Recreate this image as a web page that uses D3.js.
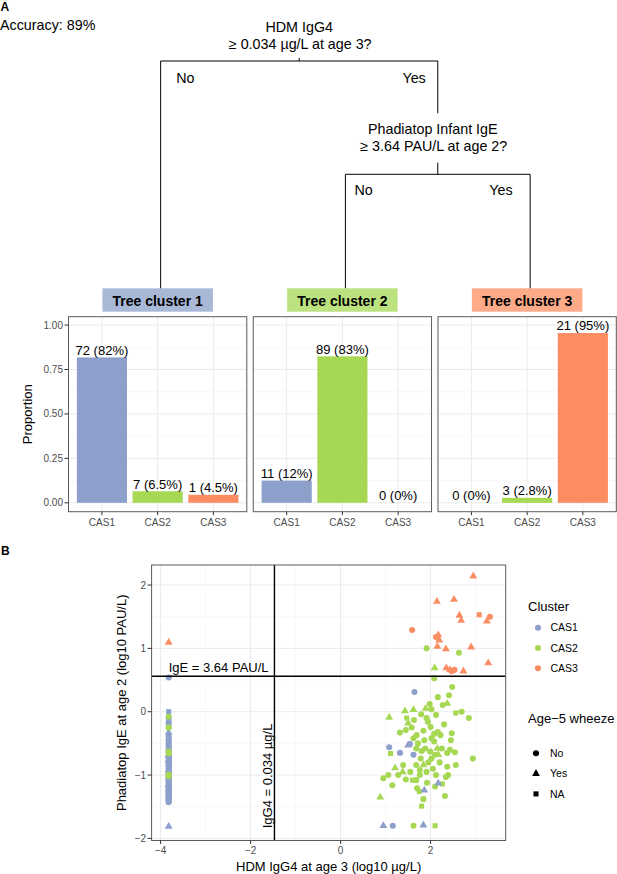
<!DOCTYPE html>
<html><head><meta charset="utf-8">
<script src="https://cdn.jsdelivr.net/npm/d3@7"></script>
<style>
body{margin:0;background:#fff}
svg{display:block}
text{font-family:"Liberation Sans",Arial,Helvetica,sans-serif}
</style></head>
<body><svg id="c" width="617" height="874"></svg>
<script>
// ---------------- DATA ----------------
const accuracy = "Accuracy: 89%";
const treeQuestions = [["HDM IgG4","≥ 0.034 µg/L at age 3?"],["Phadiatop Infant IgE","≥ 3.64 PAU/L at age 2?"]];
const branchLabels = ["No","Yes"];
const treeClusters = ["Tree cluster 1","Tree cluster 2","Tree cluster 3"];
const casCategories = ["CAS1","CAS2","CAS3"];
const clusterColors = ["#8da0cb","#a6d854","#fc8d62"];
const barProportions = [[0.818,0.065,0.045],[0.125,0.824,0],[0,0.028,0.955]];
const barLabels = [["72 (82%)","7 (6.5%)","1 (4.5%)"],["11 (12%)","89 (83%)","0 (0%)"],["0 (0%)","3 (2.8%)","21 (95%)"]];
const propTicks = [0,0.25,0.5,0.75,1];
const propMinor = [0.125,0.375,0.625,0.875];
const igg4Ticks = [-4,-2,0,2];
const igg4Minor = [-3,-1,1,3];
const igeTicks = [-2,-1,0,1,2];
const igeMinor = [-1.5,-0.5,0.5,1.5];
const igg4Threshold = -1.47;
const igeThreshold = 0.561;
const wheezeLevels = ["No","Yes","NA"];
const leftIgG4 = -3.82;
// tree cluster 1 column (x = leftIgG4): [IgE, wheeze]
const cas1LeftColumn = [[0.54,"No"],[0.00,"NA"],[-0.10,"No"],[-0.16,"No"],[-0.20,"No"],[-0.33,"Yes"],[-0.40,"No"],[-0.44,"No"],[-0.46,"No"],[-0.50,"No"],
 [-0.52,"No"],[-0.55,"No"],[-0.58,"No"],[-0.62,"No"],[-0.64,"No"],[-0.66,"NA"],[-0.68,"Yes"],[-0.71,"No"],[-0.73,"No"],[-0.74,"No"],
 [-0.76,"Yes"],[-0.78,"No"],[-0.80,"No"],[-0.82,"No"],[-0.84,"No"],[-0.85,"NA"],[-0.86,"No"],[-0.88,"No"],[-0.90,"No"],[-0.92,"Yes"],
 [-0.94,"No"],[-0.95,"No"],[-0.97,"No"],[-0.99,"No"],[-1.00,"No"],[-1.01,"NA"],[-1.03,"No"],[-1.04,"No"],[-1.05,"No"],[-1.06,"NA"],
 [-1.07,"No"],[-1.09,"No"],[-1.10,"No"],[-1.11,"No"],[-1.12,"No"],[-1.13,"NA"],[-1.15,"Yes"],[-1.16,"No"],[-1.17,"No"],[-1.18,"No"],
 [-1.19,"No"],[-1.20,"No"],[-1.21,"No"],[-1.22,"NA"],[-1.23,"No"],[-1.24,"No"],[-1.25,"No"],[-1.26,"No"],[-1.27,"NA"],[-1.28,"No"],
 [-1.29,"No"],[-1.30,"No"],[-1.31,"No"],[-1.33,"No"],[-1.34,"No"],[-1.35,"No"],[-1.36,"No"],[-1.38,"No"],[-1.40,"No"],[-1.41,"No"],
 [-1.43,"No"],[-1.81,"Yes"]];
const cas2LeftColumn = [[-0.08,"No"],[-0.25,"No"],[-0.63,"No"],[-0.99,"No"],[-0.25,"No"],[-0.66,"No"],[-1.02,"No"]];
const cas3LeftColumn = [[1.095,"Yes"]];
// right-hand points: [IgG4, IgE, wheeze]
const cas1Right = [[1.64,0.31,"No"],[1.50,-0.53,"Yes"],[1.54,-0.51,"No"],[1.08,-0.56,"No"],[1.32,-0.65,"No"],[1.62,-0.68,"No"],
 [2.17,-1.13,"Yes"],[1.86,-1.24,"Yes"],[0.95,-1.80,"Yes"],[1.16,-1.80,"No"],[1.84,-1.79,"Yes"]];
const cas2Right = [[1.91,1.00,"No"],[2.63,0.93,"No"],[2.09,0.69,"Yes"],
 [2.08,0.53,"No"],[2.48,0.39,"No"],[2.16,0.23,"No"],[2.41,0.26,"No"],
 [2.27,0.106,"No"],[2.37,0.13,"Yes"],[1.08,-0.09,"Yes"],[1.43,0.01,"Yes"],[1.62,0.03,"Yes"],[1.89,0.05,"Yes"],[2.02,0.04,"No"],
 [1.79,-0.04,"No"],[2.12,-0.05,"No"],[1.47,-0.10,"NA"],[1.50,-0.18,"Yes"],[1.63,-0.13,"No"],[1.91,-0.10,"No"],[1.94,-0.16,"No"],
 [2.56,-0.02,"NA"],[2.69,0.00,"No"],[2.85,-0.10,"No"],[1.45,-0.29,"No"],[1.32,-0.33,"No"],[1.84,-0.30,"No"],[2.00,-0.24,"No"],
 [2.16,-0.32,"No"],[2.22,-0.37,"No"],[2.47,-0.34,"No"],[1.69,-0.37,"No"],[1.62,-0.42,"No"],[2.02,-0.42,"No"],[2.08,-0.47,"No"],
 [1.11,-0.66,"NA"],[1.68,-0.58,"No"],[1.88,-0.58,"No"],[1.99,-0.63,"No"],[2.15,-0.58,"Yes"],[2.17,-0.68,"Yes"],[2.25,-0.58,"No"],
 [2.37,-0.65,"No"],[2.43,-0.60,"No"],[2.54,-0.64,"No"],[1.78,-0.74,"No"],[2.02,-0.74,"No"],[2.10,-0.68,"No"],[2.94,-0.74,"No"],
 [1.39,-0.84,"No"],[1.21,-0.89,"Yes"],[1.38,-0.95,"Yes"],[1.68,-0.84,"No"],[1.84,-0.84,"Yes"],[1.76,-0.92,"No"],[1.91,-0.95,"No"],
 [2.37,-0.87,"No"],[2.56,-0.84,"No"],[0.95,-1.05,"No"],[1.06,-1.00,"No"],[1.28,-1.00,"No"],[1.45,-1.07,"No"],[1.60,-1.08,"NA"],
 [1.68,-1.08,"No"],[1.76,-1.00,"No"],[2.12,-1.00,"No"],[2.34,-1.03,"No"],[2.39,-1.00,"No"],[2.26,-1.14,"NA"],[2.10,-1.18,"No"],
 [1.15,-1.16,"No"],[1.70,-1.21,"No"],[1.75,-1.26,"NA"],[2.32,-1.33,"No"],[0.88,-1.35,"Yes"],[1.84,-1.38,"No"],[1.80,-1.49,"NA"],
 [1.62,-1.80,"No"],[2.10,-1.80,"NA"],
 [1.72,-0.50,"No"],[1.80,-0.62,"No"],[1.95,-0.80,"No"],[2.05,-0.90,"No"],[1.58,-0.25,"No"],[2.30,-0.20,"No"],[1.98,0.12,"No"],
 [2.08,-0.35,"No"],[1.86,-0.45,"No"],[2.20,-0.80,"No"],[1.55,-0.95,"No"],[1.92,-1.12,"No"],[2.45,-0.45,"No"]];
const cas3Right = [[2.95,2.14,"Yes"],[2.14,1.74,"Yes"],[2.52,1.77,"Yes"],[2.64,1.52,"Yes"],[2.68,1.44,"Yes"],[3.08,1.53,"NA"],
 [3.32,1.50,"No"],[3.25,1.43,"Yes"],[1.59,1.29,"No"],[2.12,1.18,"No"],[2.17,1.21,"Yes"],[2.19,1.13,"Yes"],[2.15,1.03,"Yes"],
 [2.34,0.99,"Yes"],[2.90,1.02,"Yes"],[3.28,0.77,"Yes"],[2.35,0.69,"Yes"],[2.47,0.64,"No"],[2.53,0.66,"No"],[2.43,0.66,"Yes"],[2.73,0.64,"Yes"]];

// ---------------- DRAW ----------------
const svg = d3.select("#c");
const TXT = "#000", AX = "#4d4d4d", GRID = "#ebebeb", GRIDm = "#f4f4f4", BORDER = "#5a5a5a";

svg.append("text").attr("x",0.5).attr("y",10.5).attr("font-weight","bold").attr("font-size",12).text("A");
svg.append("text").attr("x",0).attr("y",30).attr("font-size",14.3).text(accuracy);

// Bar panels geometry
const panelW = 178.3, panelTop = 316.7, panelBot = 511.7;
const panelX0 = i => 68.5 + i*184.75;
const xb = d3.scaleBand().domain(casCategories).range([0,panelW]).paddingInner(0.1).paddingOuter(0.15);
const yp = d3.scaleLinear().domain([-0.05,1.047]).range([panelBot,panelTop]);

// Tree
const leafX = [0,1,2].map(i => panelX0(i) + panelW/2 + 3);
const node2X = (leafX[1]+leafX[2])/2;
const rootX = (leafX[0]+node2X)/2;
const T = {r1:32.3, r2:49.3, rBar:61, rTick:58, lbl1:82.7, n2Top:113.3, n1:134.3, n2:151, n2Tick:162.7, n2Bar:174.3, lbl2:195, leafBot:288.5};
const tree = svg.append("g").attr("stroke","#000").attr("stroke-width",1).attr("fill","none");
const seg = (x1,y1,x2,y2)=>tree.append("line").attr("x1",x1).attr("y1",y1).attr("x2",x2).attr("y2",y2);
seg(rootX,T.rTick,rootX,T.rBar);
seg(leafX[0],T.rBar,node2X,T.rBar);
seg(leafX[0],T.rBar,leafX[0],T.leafBot);
seg(node2X,T.rBar,node2X,T.n2Top);
seg(node2X,T.n2Tick,node2X,T.n2Bar);
seg(leafX[1],T.n2Bar,leafX[2],T.n2Bar);
seg(leafX[1],T.n2Bar,leafX[1],T.leafBot);
seg(leafX[2],T.n2Bar,leafX[2],T.leafBot);
const tt = (x,y,s,anchor)=>svg.append("text").attr("x",x).attr("y",y).attr("font-size",14.3).attr("text-anchor",anchor||"middle").attr("fill",TXT).text(s);
tt(rootX,T.r1,treeQuestions[0][0]); tt(rootX+1,T.r2,treeQuestions[0][1]);
tt(node2X-5,T.n1,treeQuestions[1][0]); tt(node2X-4,T.n2,treeQuestions[1][1]);
tt(leafX[0]+15.5,T.lbl1,branchLabels[0],"start"); tt(node2X-12,T.lbl1,branchLabels[1],"end");
tt(leafX[1]+9,T.lbl2,branchLabels[0],"start"); tt(leafX[2]-17.5,T.lbl2,branchLabels[1],"end");

// Bar facets
treeClusters.forEach((name,i)=>{
  const x0 = panelX0(i);
  const g = svg.append("g").attr("transform",`translate(${x0},0)`);
  const cx = panelW/2;
  g.append("rect").attr("x",cx-55.25).attr("y",288.3).attr("width",110.5).attr("height",23.4)
    .attr("fill",clusterColors[i]).attr("fill-opacity",0.75);
  g.append("text").attr("x",cx).attr("y",305.8).attr("text-anchor","middle").attr("font-weight","bold")
    .attr("font-size",14).text(name);
  propMinor.forEach(v=>g.append("line").attr("x1",0).attr("x2",panelW).attr("y1",yp(v)).attr("y2",yp(v)).attr("stroke",GRIDm).attr("stroke-width",0.6));
  propTicks.forEach(v=>g.append("line").attr("x1",0).attr("x2",panelW).attr("y1",yp(v)).attr("y2",yp(v)).attr("stroke",GRID).attr("stroke-width",1));
  casCategories.forEach(c=>{const xc=xb(c)+xb.bandwidth()/2; g.append("line").attr("x1",xc).attr("x2",xc).attr("y1",panelTop).attr("y2",panelBot).attr("stroke",GRID).attr("stroke-width",1);});
  g.selectAll("rect.bar").data(barProportions[i]).join("rect").attr("class","bar")
    .attr("x",(d,j)=>xb(casCategories[j])).attr("width",xb.bandwidth())
    .attr("y",d=>yp(d)).attr("height",d=>yp(0)-yp(d)).attr("fill",(d,j)=>clusterColors[j]);
  g.selectAll("text.lab").data(barProportions[i]).join("text").attr("class","lab")
    .attr("x",(d,j)=>xb(casCategories[j])+xb.bandwidth()/2).attr("y",d=>yp(d)-2.6)
    .attr("text-anchor","middle").attr("font-size",13).text((d,j)=>barLabels[i][j]);
  g.append("rect").attr("x",0).attr("y",panelTop).attr("width",panelW).attr("height",panelBot-panelTop)
    .attr("fill","none").attr("stroke",BORDER).attr("stroke-width",1);
  casCategories.forEach(c=>{
    const xc=xb(c)+xb.bandwidth()/2;
    g.append("line").attr("x1",xc).attr("x2",xc).attr("y1",panelBot).attr("y2",panelBot+3.5).attr("stroke","#333");
    g.append("text").attr("x",xc).attr("y",525.5).attr("text-anchor","middle").attr("font-size",10).attr("fill",AX).text(c);
  });
  if(i===0){
    propTicks.forEach(v=>{
      g.append("line").attr("x1",-4).attr("x2",0).attr("y1",yp(v)).attr("y2",yp(v)).attr("stroke","#333");
      g.append("text").attr("x",-5.5).attr("y",yp(v)+3.5).attr("text-anchor","end").attr("font-size",10).attr("fill",AX).text(d3.format(".2f")(v));
    });
  }
});
svg.append("text").attr("transform",`translate(32,${(panelTop+panelBot)/2}) rotate(-90)`).attr("text-anchor","middle")
  .attr("font-size",13).text("Proportion");

// ---------------- Panel B ----------------
svg.append("text").attr("x",1).attr("y",555).attr("font-weight","bold").attr("font-size",12).text("B");
const sx = d3.scaleLinear().domain([-4.2,3.669]).range([151.6,505.7]);
const sy = d3.scaleLinear().domain([-2.033,2.316]).range([840.5,565]);
const [X0,X1] = sx.range(), [Y1,Y0] = sy.range();
const gB = svg.append("g");
igg4Minor.forEach(v=>gB.append("line").attr("x1",sx(v)).attr("x2",sx(v)).attr("y1",Y0).attr("y2",Y1).attr("stroke",GRIDm).attr("stroke-width",0.6));
igeMinor.forEach(v=>gB.append("line").attr("y1",sy(v)).attr("y2",sy(v)).attr("x1",X0).attr("x2",X1).attr("stroke",GRIDm).attr("stroke-width",0.6));
igg4Ticks.forEach(v=>gB.append("line").attr("x1",sx(v)).attr("x2",sx(v)).attr("y1",Y0).attr("y2",Y1).attr("stroke",GRID).attr("stroke-width",1));
igeTicks.forEach(v=>gB.append("line").attr("y1",sy(v)).attr("y2",sy(v)).attr("x1",X0).attr("x2",X1).attr("stroke",GRID).attr("stroke-width",1));

const symType = {No:d3.symbolCircle, Yes:d3.symbolTriangle, NA:d3.symbolSquare};
const symSize = {No:29, Yes:27, NA:26};
const sym = w => d3.symbol().type(symType[w]).size(symSize[w])();
const drawPts = (pts,color)=>{
  gB.append("g").selectAll("path").data(pts).join("path")
    .attr("transform",d=>`translate(${sx(d[0])},${sy(d[1])})`).attr("d",d=>sym(d[2])).attr("fill",color);
};
drawPts(cas1LeftColumn.map(d=>[leftIgG4,d[0],d[1]]), clusterColors[0]);
drawPts(cas2Right, clusterColors[1]);
drawPts(cas2LeftColumn.map(d=>[leftIgG4,d[0],d[1]]), clusterColors[1]);
drawPts(cas1Right, clusterColors[0]);
drawPts(cas3LeftColumn.map(d=>[leftIgG4,d[0],d[1]]), clusterColors[2]);
drawPts(cas3Right, clusterColors[2]);

gB.append("line").attr("x1",sx(igg4Threshold)).attr("x2",sx(igg4Threshold)).attr("y1",Y0).attr("y2",Y1).attr("stroke","#000").attr("stroke-width",1.4);
gB.append("line").attr("x1",X0).attr("x2",X1).attr("y1",sy(igeThreshold)).attr("y2",sy(igeThreshold)).attr("stroke","#000").attr("stroke-width",1.4);
gB.append("text").attr("x",sx(leftIgG4)).attr("y",sy(igeThreshold)-4).attr("font-size",13).text("IgE = 3.64 PAU/L");
gB.append("text").attr("transform",`translate(${sx(igg4Threshold)-2.5},${sy(-1.84)}) rotate(-90)`).attr("font-size",13).text("IgG4 = 0.034 µg/L");

gB.append("rect").attr("x",X0).attr("y",Y0).attr("width",X1-X0).attr("height",Y1-Y0).attr("fill","none").attr("stroke",BORDER).attr("stroke-width",1);
igg4Ticks.forEach(v=>{
  gB.append("line").attr("x1",sx(v)).attr("x2",sx(v)).attr("y1",Y1).attr("y2",Y1+3.5).attr("stroke","#333");
  gB.append("text").attr("x",sx(v)).attr("y",853.5).attr("text-anchor","middle").attr("font-size",10).attr("fill",AX).text(d3.format("d")(v));
});
igeTicks.forEach(v=>{
  gB.append("line").attr("x1",X0-4).attr("x2",X0).attr("y1",sy(v)).attr("y2",sy(v)).attr("stroke","#333");
  gB.append("text").attr("x",X0-5.5).attr("y",sy(v)+3.5).attr("text-anchor","end").attr("font-size",10).attr("fill",AX).text(d3.format("d")(v));
});
svg.append("text").attr("x",(X0+X1)/2).attr("y",870.5).attr("text-anchor","middle").attr("font-size",13).text("HDM IgG4 at age 3 (log10 µg/L)");
svg.append("text").attr("transform",`translate(126,${(Y0+Y1)/2}) rotate(-90)`).attr("text-anchor","middle").attr("font-size",13).text("Phadiatop IgE at age 2 (log10 PAU/L)");

const lg = svg.append("g");
lg.append("text").attr("x",528).attr("y",610.5).attr("font-size",13).text("Cluster");
casCategories.forEach((c,i)=>{
  const y = 627.7 + i*20.3;
  lg.append("path").attr("transform",`translate(538,${y})`).attr("d",sym("No")).attr("fill",clusterColors[i]);
  lg.append("text").attr("x",550.5).attr("y",y+3.6).attr("font-size",10.5).text(c);
});
lg.append("text").attr("x",528).attr("y",723).attr("font-size",13).text("Age−5 wheeze");
wheezeLevels.forEach((w,i)=>{
  const y = 753.3 + i*20.3;
  lg.append("path").attr("transform",`translate(536,${y})`).attr("d",sym(w)).attr("fill","#000");
  lg.append("text").attr("x",550).attr("y",y+3.6).attr("font-size",10.5).text(w);
});
</script></body></html>
